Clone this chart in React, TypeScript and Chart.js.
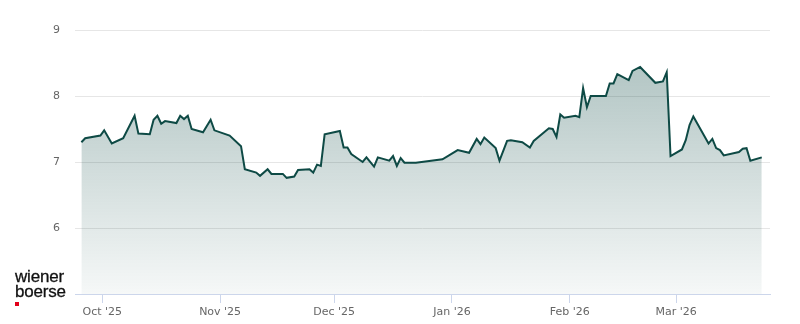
import React, { useEffect, useRef } from "react";
import { Chart, registerables } from "chart.js";

Chart.register(...registerables);

const DATES = [
  "2025-09-25", "2025-09-26", "2025-09-30", "2025-10-01", "2025-10-03", "2025-10-06",
  "2025-10-09", "2025-10-10", "2025-10-13", "2025-10-14", "2025-10-15", "2025-10-16",
  "2025-10-17", "2025-10-20", "2025-10-21", "2025-10-22", "2025-10-23", "2025-10-24",
  "2025-10-27", "2025-10-29", "2025-10-30", "2025-11-03", "2025-11-06", "2025-11-07",
  "2025-11-10", "2025-11-11", "2025-11-13", "2025-11-14", "2025-11-17", "2025-11-18",
  "2025-11-20", "2025-11-21", "2025-11-24", "2025-11-25", "2025-11-26", "2025-11-27",
  "2025-11-28", "2025-12-02", "2025-12-03", "2025-12-04", "2025-12-05", "2025-12-08",
  "2025-12-09", "2025-12-11", "2025-12-12", "2025-12-15", "2025-12-16", "2025-12-17",
  "2025-12-18", "2025-12-19", "2025-12-22", "2025-12-29", "2026-01-02", "2026-01-05",
  "2026-01-07", "2026-01-08", "2026-01-09", "2026-01-12", "2026-01-13", "2026-01-15",
  "2026-01-16", "2026-01-19", "2026-01-21", "2026-01-22", "2026-01-26", "2026-01-27",
  "2026-01-28", "2026-01-29", "2026-01-30", "2026-02-02", "2026-02-03", "2026-02-04",
  "2026-02-05", "2026-02-06", "2026-02-10", "2026-02-11", "2026-02-12", "2026-02-13",
  "2026-02-16", "2026-02-17", "2026-02-19", "2026-02-23", "2026-02-25", "2026-02-26",
  "2026-02-27", "2026-03-02", "2026-03-03", "2026-03-04", "2026-03-05", "2026-03-09",
  "2026-03-10", "2026-03-11", "2026-03-12", "2026-03-13", "2026-03-17", "2026-03-18",
  "2026-03-19", "2026-03-20", "2026-03-23",
];

const PRICES = [
  7.30, 7.36, 7.40, 7.48, 7.28, 7.36,
  7.70, 7.43, 7.42, 7.64, 7.70, 7.58,
  7.62, 7.59, 7.70, 7.65, 7.70, 7.50,
  7.45, 7.64, 7.48, 7.40, 7.24, 6.89,
  6.84, 6.79, 6.89, 6.82, 6.82, 6.76,
  6.78, 6.88, 6.89, 6.84, 6.96, 6.94,
  7.42, 7.47, 7.22, 7.22, 7.12, 7.00,
  7.07, 6.93, 7.07, 7.02, 7.09, 6.94,
  7.06, 6.99, 6.99, 7.04, 7.18, 7.14,
  7.35, 7.27, 7.37, 7.21, 7.02, 7.32,
  7.33, 7.30, 7.22, 7.32, 7.51, 7.50,
  7.38, 7.72, 7.67, 7.70, 7.68, 8.12,
  7.83, 8.00, 8.00, 8.19, 8.19, 8.33,
  8.24, 8.38, 8.44, 8.20, 8.22, 8.36,
  7.09, 7.19, 7.33, 7.56, 7.69, 7.28,
  7.35, 7.21, 7.18, 7.10, 7.15, 7.20,
  7.21, 7.02, 7.07,
];

const MONTH_TICKS = ["2025-10-01", "2025-11-01", "2025-12-01", "2026-01-01", "2026-02-01", "2026-03-01"];
const MONTH_LABELS = ["Oct '25", "Nov '25", "Dec '25", "Jan '26", "Feb '26", "Mar '26"];
const Y_TICKS = [5, 6, 7, 8, 9];

const DAY = 86400000;
const toDay = (iso: string, hour = 0) => Date.parse(iso + "T00:00:00Z") / DAY + hour / 24;

const LINE_COLOR = "#0e4a45";

export default function App() {
  const ref = useRef<HTMLCanvasElement | null>(null);

  useEffect(() => {
    document.body.style.margin = "0";
    const canvas = ref.current;
    if (!canvas) return;
    const points = DATES.map((d, i) => ({ x: toDay(d, 12), y: PRICES[i] }));
    const tickDays = MONTH_TICKS.map((d) => toDay(d));
    const oct1 = toDay("2025-10-01");

    const chart = new Chart(canvas, {
      type: "line",
      data: {
        datasets: [
          {
            data: points,
            borderColor: LINE_COLOR,
            borderWidth: 2,
            pointRadius: 0,
            tension: 0,
            fill: "start",
            backgroundColor: (ctx: any) => {
              const area = ctx.chart.chartArea;
              if (!area) return "rgba(14,74,69,0.2)";
              const g = ctx.chart.ctx.createLinearGradient(0, area.top, 0, area.bottom);
              g.addColorStop(0, "rgba(14,74,69,0.36)");
              g.addColorStop(1, "rgba(14,74,69,0.04)");
              return g;
            },
          },
        ],
      },
      options: {
        animation: false,
        responsive: false,
        maintainAspectRatio: false,
        layout: { padding: { left: 0, right: 30, top: 30, bottom: 0 } },
        plugins: { legend: { display: false }, tooltip: { enabled: false } },
        scales: {
          x: {
            type: "linear",
            min: oct1 - 7.18,
            max: oct1 + 175.67,
            afterBuildTicks: (scale: any) => {
              scale.ticks = tickDays.map((v) => ({ value: v }));
            },
            afterFit: (scale: any) => {
              scale.height = 30;
            },
            ticks: {
              autoSkip: false,
              maxRotation: 0,
              padding: 3,
              color: "#666666",
              font: { family: "DejaVu Sans", size: 11 },
              callback: (v: any) => {
                const i = tickDays.indexOf(Number(v));
                return i >= 0 ? MONTH_LABELS[i] : "";
              },
            },
            grid: {
              drawOnChartArea: false,
              drawTicks: true,
              tickLength: 9,
              color: "#ccd6eb",
            },
            border: { display: true, color: "#ccd6eb", width: 1 },
          },
          y: {
            type: "linear",
            min: 5,
            max: 9,
            afterBuildTicks: (scale: any) => {
              scale.ticks = Y_TICKS.map((v) => ({ value: v }));
            },
            afterFit: (scale: any) => {
              scale.width = 75;
            },
            ticks: {
              padding: 15,
              color: "#666666",
              font: { family: "DejaVu Sans", size: 11 },
              callback: (v: any) => (Number(v) === 5 ? "" : String(v)),
            },
            grid: {
              drawTicks: false,
              color: (ctx: any) => (ctx.tick && ctx.tick.value === 5 ? "rgba(0,0,0,0)" : "#e6e6e6"),
            },
            border: { display: false },
          },
        },
      },
    });
    return () => chart.destroy();
  }, []);

  return (
    <div style={{ position: "relative", width: 800, height: 324, background: "#fff" }}>
      <canvas ref={ref} width={800} height={324} style={{ display: "block", width: 800, height: 324 }} />
      <div
        style={{
          position: "absolute",
          left: 15,
          top: 269,
          fontFamily: "'Liberation Sans', Arial, sans-serif",
          fontSize: 17,
          lineHeight: "15px",
          color: "#111",
          letterSpacing: "-0.2px",
          WebkitTextStroke: "0.3px #111",
        }}
      >
        <div>wiener</div>
        <div>boerse</div>
        <div style={{ width: 4, height: 4, background: "#e2001a", marginTop: 3 }} />
      </div>
    </div>
  );
}
